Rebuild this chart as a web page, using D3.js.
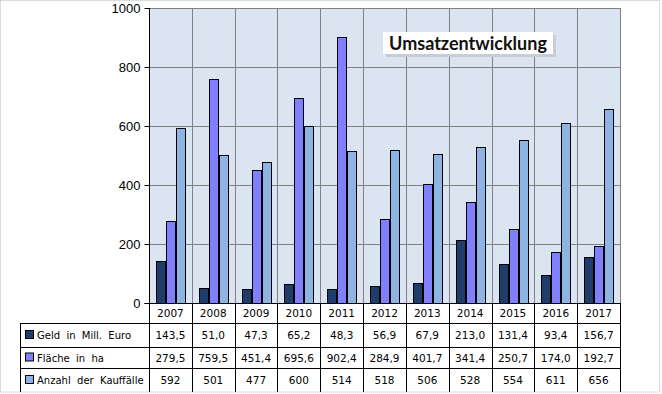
<!DOCTYPE html>
<html><head><meta charset="utf-8">
<script src="https://cdn.jsdelivr.net/npm/d3@7"></script>
<style>
html,body{margin:0;padding:0;background:#fff;}
svg{display:block;}
</style></head>
<body>
<svg id="chart" width="662" height="394"></svg>
<script>
const years = ["2007","2008","2009","2010","2011","2012","2013","2014","2015","2016","2017"];
const seriesNames = ["Geld  in  Mill.  Euro", "Fläche  in  ha", "Anzahl  der  Kauffälle"];
const geld = [143.5, 51.0, 47.3, 65.2, 48.3, 56.9, 67.9, 213.0, 131.4, 93.4, 156.7];
const flaeche = [279.5, 759.5, 451.4, 695.6, 902.4, 284.9, 401.7, 341.4, 250.7, 174.0, 192.7];
const anzahl = [592, 501, 477, 600, 514, 518, 506, 528, 554, 611, 656];
const geldLabels = ["143,5","51,0","47,3","65,2","48,3","56,9","67,9","213,0","131,4","93,4","156,7"];
const flaecheLabels = ["279,5","759,5","451,4","695,6","902,4","284,9","401,7","341,4","250,7","174,0","192,7"];
const anzahlLabels = ["592","501","477","600","514","518","506","528","554","611","656"];
const yTicks = [0, 200, 400, 600, 800, 1000];
const title = "Umsatzentwicklung";

const colors = ["#1f3d6b", "#8080ff", "#8db4e2"];
const seriesValues = [geld, flaeche, anzahl];
const seriesLabels = [geldLabels, flaecheLabels, anzahlLabels];

const svg = d3.select("#chart");
const L = 149, R = 620, T = 8, B = 303;
const tableLeft = 20;
const rowBounds = [303, 323, 347, 368, 392];

// outer dotted border
svg.append("rect").attr("x",0.5).attr("y",0.5).attr("width",659).attr("height",391.5)
  .attr("fill","none").attr("stroke","#b8b8b8").attr("stroke-dasharray","1,1");

const x = d3.scaleBand().domain(years).range([L, R]);
const y = d3.scaleLinear().domain([0, 1000]).range([B, T]);
const inner = d3.scaleBand().domain([0,1,2]).range([7, 37]).padding(0);

// plot background
svg.append("rect").attr("x",L).attr("y",T).attr("width",R-L).attr("height",B-T).attr("fill","#dbe5f1");

// grid
const g = svg.append("g");
g.selectAll("line.h").data(yTicks.filter(d=>d>0)).join("line")
  .attr("x1",L).attr("x2",R).attr("y1",d=>Math.round(y(d))+0.5).attr("y2",d=>Math.round(y(d))+0.5)
  .attr("stroke","#808080").attr("stroke-width",1);
g.selectAll("line.v").data(years).join("line")
  .attr("x1",(d,i)=>Math.round(L + (i+1)*x.bandwidth())+0.5)
  .attr("x2",(d,i)=>Math.round(L + (i+1)*x.bandwidth())+0.5)
  .attr("y1",T).attr("y2",B)
  .attr("stroke","#808080").attr("stroke-width",1);

// bars
seriesValues.forEach((vals, si) => {
  svg.append("g").selectAll("rect").data(vals).join("rect")
    .attr("x",(d,i)=>Math.round(x(years[i]) + inner(si))+0.5)
    .attr("y",d=>Math.round(y(d))+0.5)
    .attr("width",Math.round(inner.bandwidth())-1)
    .attr("height",d=>Math.round(B - y(d)))
    .attr("fill",colors[si]).attr("stroke","#000").attr("stroke-width",1);
});

// y axis
const yAxis = d3.axisLeft(y).tickValues(yTicks).tickFormat(d3.format("d")).tickSize(5).tickPadding(4);
const ax = svg.append("g").attr("transform",`translate(${L+0.5},0)`).call(yAxis);
ax.select(".domain").attr("stroke","#000").attr("d",`M-5,${B+0.5}H0V${T}`);
ax.selectAll(".tick line").attr("stroke","#000");
ax.selectAll(".tick text").attr("font-family","Liberation Sans, Arial, sans-serif").attr("font-size",13).attr("fill","#000");

// table lines
const tl = svg.append("g").attr("stroke","#000").attr("stroke-width",1);
tl.append("line").attr("x1",L).attr("x2",R+0.5).attr("y1",B+0.5).attr("y2",B+0.5);
[rowBounds[1], rowBounds[2], rowBounds[3]].forEach(yy => {
  tl.append("line").attr("x1",tableLeft).attr("x2",R+0.5).attr("y1",yy+0.5).attr("y2",yy+0.5);
});
const bounds = [L].concat(years.map((d,i)=>L+(i+1)*x.bandwidth()));
bounds.forEach(bx => {
  tl.append("line").attr("x1",Math.round(bx)+0.5).attr("x2",Math.round(bx)+0.5).attr("y1",B).attr("y2",rowBounds[4]);
});
tl.append("line").attr("x1",tableLeft+0.5).attr("x2",tableLeft+0.5).attr("y1",rowBounds[1]).attr("y2",rowBounds[4]);

const tf = "DejaVu Sans, Verdana, sans-serif";
svg.append("g").selectAll("text").data(years).join("text")
  .attr("x",d=>x(d)+x.bandwidth()/2).attr("y",(rowBounds[0]+rowBounds[1])/2+4)
  .attr("text-anchor","middle").attr("font-family",tf).attr("font-size",10.5).attr("fill","#000").text(d=>d);

seriesLabels.forEach((labs, si) => {
  const cy = (rowBounds[si+1]+rowBounds[si+2])/2;
  svg.append("g").selectAll("text").data(labs).join("text")
    .attr("x",(d,i)=>x(years[i])+x.bandwidth()/2).attr("y",cy+4)
    .attr("text-anchor","middle").attr("font-family",tf).attr("font-size",10.5).attr("fill","#000").text(d=>d);
  svg.append("rect").attr("x",25.5).attr("y",cy-4.5).attr("width",8).attr("height",8)
    .attr("fill",colors[si]).attr("stroke","#000").attr("stroke-width",1);
  svg.append("text").attr("x",37).attr("y",cy+4).attr("font-family",tf).attr("font-size",10)
    .attr("fill","#000").style("white-space","pre").text(seriesNames[si]);
});

// title box
const tb = svg.append("g");
tb.append("rect").attr("x",386).attr("y",35).attr("width",170).attr("height",22).attr("fill","#c8ccd4");
tb.append("rect").attr("x",383).attr("y",32).attr("width",170).attr("height",22).attr("fill","#fff");
tb.append("text").attr("x",468).attr("y",50).attr("text-anchor","middle")
  .attr("font-family","Lato, sans-serif").attr("font-weight","bold").attr("font-size",18).attr("fill","#111").text(title);
</script>
</body></html>
